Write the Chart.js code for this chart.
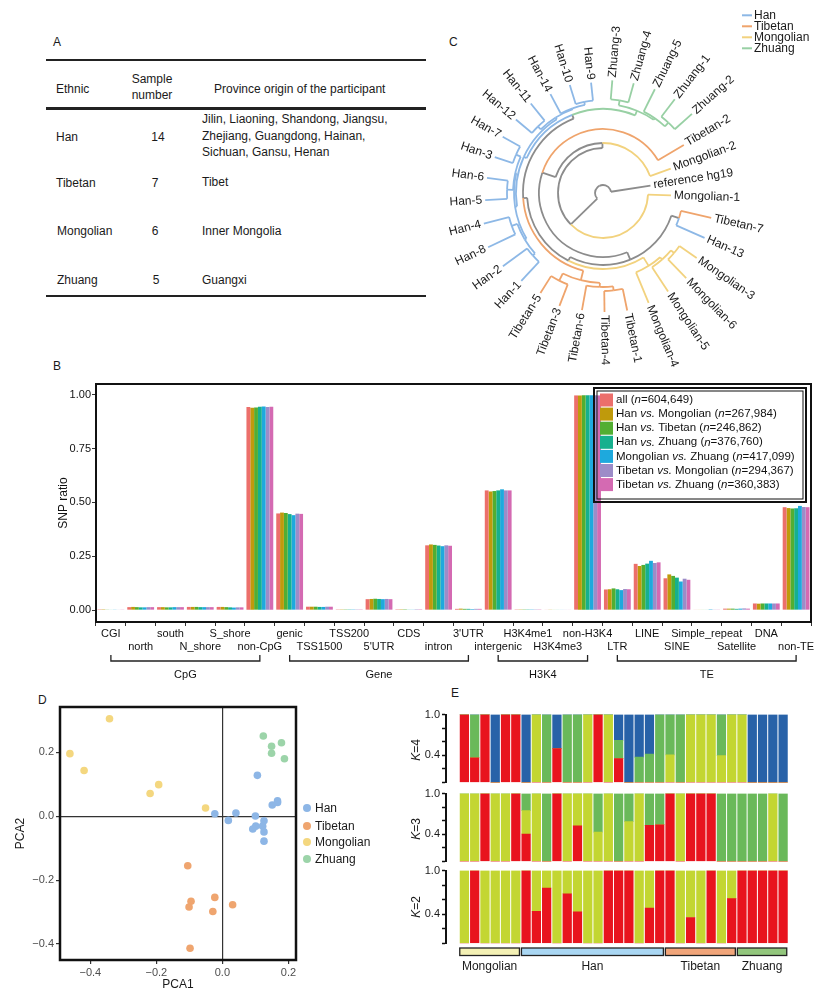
<!DOCTYPE html>
<html>
<head>
<meta charset="utf-8">
<title>SNP figure</title>
<script src="https://cdn.jsdelivr.net/npm/chart.js@4.4.1/dist/chart.umd.min.js"></script>
<style>
  body { margin:0; width:827px; height:996px; position:relative; overflow:hidden; background:#fff;
         font-family:"Liberation Sans", Arial, sans-serif; color:#1a1a1a; }
  .t { position:absolute; font-size:12px; line-height:14px; white-space:nowrap; }
  .c { text-align:center; width:60px; }
  .rule { position:absolute; left:46px; width:380px; background:#222; }
  canvas { position:absolute; }
  .dot { position:absolute; width:8px; height:8px; border-radius:50%; }
</style>
</head>
<body>
<!-- panel letters -->
<div class="t" style="left:53px;top:35px">A</div>
<div class="t" style="left:449px;top:35px">C</div>
<div class="t" style="left:53px;top:359px">B</div>
<div class="t" style="left:38px;top:693px">D</div>
<div class="t" style="left:451px;top:686px">E</div>

<!-- panel A : table -->
<div class="rule" style="top:59px;height:2px"></div>
<div class="rule" style="top:107px;height:3px"></div>
<div class="rule" style="top:295px;height:2px"></div>
<div class="t" style="left:56px;top:82px">Ethnic</div>
<div class="t c" style="left:122px;top:72px">Sample</div>
<div class="t c" style="left:122px;top:88px">number</div>
<div class="t" style="left:214px;top:82px">Province origin of the participant</div>
<div class="t" style="left:56px;top:130px">Han</div>
<div class="t c" style="left:128px;top:130px">14</div>
<div class="t" style="left:202px;top:112px">Jilin, Liaoning, Shandong, Jiangsu,</div>
<div class="t" style="left:202px;top:129px">Zhejiang, Guangdong, Hainan,</div>
<div class="t" style="left:202px;top:145px">Sichuan, Gansu, Henan</div>
<div class="t" style="left:56px;top:176px">Tibetan</div>
<div class="t c" style="left:125px;top:176px">7</div>
<div class="t" style="left:202px;top:175px">Tibet</div>
<div class="t" style="left:57px;top:224px">Mongolian</div>
<div class="t c" style="left:125px;top:224px">6</div>
<div class="t" style="left:202px;top:224px">Inner Mongolia</div>
<div class="t" style="left:57px;top:273px">Zhuang</div>
<div class="t c" style="left:126px;top:273px">5</div>
<div class="t" style="left:202px;top:273px">Guangxi</div>

<canvas id="chartC" width="414" height="385" style="left:413px;top:3px"></canvas>
<canvas id="chartB" width="787" height="320" style="left:40px;top:370px"></canvas>
<canvas id="chartD" width="300" height="306" style="left:0px;top:690px"></canvas>
<canvas id="chartK4" width="372" height="85" style="left:422px;top:706px"></canvas>
<canvas id="chartK3" width="372" height="85" style="left:422px;top:785px"></canvas>
<canvas id="chartK2" width="372" height="134" style="left:422px;top:862px"></canvas>

<!-- panel D legend -->
<div class="dot" style="left:303px;top:804px;background:#8DB6E6"></div>
<div class="t" style="left:315px;top:801px">Han</div>
<div class="dot" style="left:303px;top:822px;background:#EFA56F"></div>
<div class="t" style="left:315px;top:819px">Tibetan</div>
<div class="dot" style="left:303px;top:838px;background:#F4D77F"></div>
<div class="t" style="left:315px;top:835px">Mongolian</div>
<div class="dot" style="left:303px;top:855px;background:#9CD4A9"></div>
<div class="t" style="left:315px;top:852px">Zhuang</div>

<!-- panel E row titles -->
<div class="t c" style="left:386px;top:743px;width:60px;transform:rotate(-90deg)"><i>K</i>=4</div>
<div class="t c" style="left:386px;top:822px;width:60px;transform:rotate(-90deg)"><i>K</i>=3</div>
<div class="t c" style="left:386px;top:900px;width:60px;transform:rotate(-90deg)"><i>K</i>=2</div>

<script>
// ---------- panel B : SNP ratio per genomic feature ----------
const bCategories = ['CGI','north','south','N_shore','S_shore','non-CpG','genic','TSS1500','TSS200',"5'UTR",'CDS','intron',"3'UTR",'intergenic','H3K4me1','H3K4me3','non-H3K4','LTR','LINE','SINE','Simple_repeat','Satellite','DNA','non-TE'];
const bSeriesNames = ['all','Han vs. Mongolian','Han vs. Tibetan','Han vs. Zhuang','Mongolian vs. Zhuang','Tibetan vs. Mongolian','Tibetan vs. Zhuang'];
const bSeriesN = ['604,649','267,984','246,862','376,760','417,099','294,367','360,383'];
const ratioAll    = [0.004,0.014,0.014,0.015,0.015,0.943,0.449,0.016,0.001,0.051,0.004,0.301,0.006,0.556,0.001,0.002,0.997,0.096,0.215,0.148,0.002,0.007,0.031,0.478];
const ratioHanMon = [0.004,0.015,0.014,0.015,0.015,0.940,0.453,0.016,0.001,0.052,0.004,0.305,0.007,0.551,0.001,0.003,0.997,0.097,0.205,0.166,0.002,0.007,0.030,0.474];
const ratioHanTib = [0.003,0.014,0.013,0.015,0.014,0.941,0.451,0.016,0.001,0.053,0.004,0.303,0.006,0.553,0.001,0.002,0.998,0.101,0.210,0.159,0.002,0.007,0.031,0.472];
const ratioHanZhu = [0.002,0.013,0.013,0.014,0.013,0.944,0.446,0.015,0.001,0.052,0.003,0.300,0.006,0.556,0.001,0.002,0.998,0.097,0.216,0.151,0.002,0.006,0.031,0.473];
const ratioMonZhu = [0.003,0.013,0.014,0.014,0.012,0.946,0.441,0.015,0.001,0.051,0.003,0.297,0.005,0.561,0.001,0.002,0.998,0.093,0.229,0.133,0.004,0.007,0.031,0.484];
const ratioTibMon = [0.002,0.014,0.014,0.014,0.013,0.943,0.448,0.016,0.001,0.052,0.004,0.301,0.006,0.556,0.001,0.002,0.998,0.098,0.219,0.146,0.003,0.008,0.031,0.479];
const ratioTibZhu = [0.003,0.014,0.014,0.014,0.013,0.944,0.447,0.016,0.001,0.051,0.004,0.299,0.006,0.556,0.001,0.002,0.997,0.097,0.222,0.141,0.003,0.007,0.031,0.478];
const bColors = ['#EC6F6B','#BF9A0C','#52AE32','#16B08E','#1EA9DD','#9C8CC8','#D46AB2'];
const bYTicks = [0, 0.25, 0.5, 0.75, 1.0];
const bGroupNames = ['CpG','Gene','H3K4','TE'];
const bGroupFirst = [0,6,13,17];
const bGroupLast  = [5,12,16,23];

// ---------- panel C : neighbour-joining tree ----------
// nested [depth, child, child]; leaves are sample names
const treeC =
  [0.08,
    [0.45,
      'Mongolian-1',
      [0.50,
        [0.64,
          [0.72,
            [0.80, 'Tibetan-7', 'Han-13'],
            [0.76,
              [0.86, [0.89, [0.93, 'Mongolian-3', 'Mongolian-6'], 'Mongolian-5'], 'Mongolian-4'],
              [0.80,
                [0.90, [0.94, [0.98, 'Tibetan-1', 'Tibetan-4'], 'Tibetan-6'], [0.98, 'Tibetan-3', 'Tibetan-5']],
                [0.84,
                  [0.87,
                    [0.89, [0.91, [0.94, 'Han-1', 'Han-2'], [0.97, 'Han-8', 'Han-4']],
                           [0.90, [0.96, 'Han-5', 'Han-6'], [0.95, 'Han-3', 'Han-7']]],
                    [0.89, [0.93, 'Han-12', 'Han-11'], [0.90, 'Han-14', [0.93, 'Han-10', 'Han-9']]]],
                  [0.89, [0.94, 'Zhuang-3', 'Zhuang-4'], [0.91, 'Zhuang-5', [0.96, 'Zhuang-1', 'Zhuang-2']]]]]]],
          'Tibetan-2'],
        'Mongolian-2']],
    'reference hg19'];
const leafDepth = {
  'reference hg19':0.48, 'Mongolian-1':0.68, 'Tibetan-7':1.11, 'Han-13':1.11, 'Mongolian-3':1.14,
  'Mongolian-6':1.19, 'Mongolian-5':1.18, 'Mongolian-4':1.19, 'Tibetan-1':1.20, 'Tibetan-4':1.19,
  'Tibetan-6':1.19, 'Tibetan-3':1.21, 'Tibetan-5':1.18, 'Han-1':1.20, 'Han-2':1.24, 'Han-8':1.27,
  'Han-4':1.23, 'Han-5':1.18, 'Han-6':1.17, 'Han-3':1.14, 'Han-7':1.15, 'Han-12':1.14, 'Han-11':1.15,
  'Han-14':1.12, 'Han-10':1.13, 'Han-9':1.11, 'Zhuang-3':1.13, 'Zhuang-4':1.14, 'Zhuang-5':1.16,
  'Zhuang-1':1.18, 'Zhuang-2':1.19, 'Tibetan-2':0.94, 'Mongolian-2':0.72
};
const treeColors = { Han:'#8DB8E6', Tibetan:'#EFA46C', Mongolian:'#F2D27E', Zhuang:'#98D0A4', mixed:'#8C8C8C' };

// ---------- panel D : PCA ----------
const popNames = ['Han','Tibetan','Mongolian','Zhuang'];
const popColors = ['#8DB6E6','#EFA56F','#F4D77F','#9CD4A9'];
const hanPC1 = [0.106,0.151,0.167,0.167,-0.023,0.041,0.018,0.100,0.126,0.122,0.101,0.092,0.126,0.126];
const hanPC2 = [0.128,0.035,0.048,0.043,0.008,0.010,-0.013,0.001,-0.014,-0.031,-0.031,-0.040,-0.049,-0.078];
const tibPC1 = [-0.105,-0.095,-0.101,-0.023,-0.029,0.031,-0.098];
const tibPC2 = [-0.155,-0.266,-0.284,-0.254,-0.298,-0.277,-0.413];
const monPC1 = [-0.342,-0.462,-0.419,-0.193,-0.219,-0.051];
const monPC2 = [0.305,0.196,0.143,0.099,0.071,0.026];
const zhuPC1 = [0.124,0.149,0.179,0.149,0.188];
const zhuPC2 = [0.251,0.219,0.230,0.197,0.180];

// ---------- panel E : ADMIXTURE ancestry proportions (32 samples) ----------
const groupOrder = ['Mongolian','Han','Tibetan','Zhuang'];
const groupSize = [6,14,7,5];
const groupFill = ['#F3F0B4','#A9D6F2','#F1A57A','#92C67C'];
const ancestryColors = ['#E8141E','#C3D632','#6AB95A','#2862A8'];
const k4Red   = [1,0.364,1,0,1,1, 0,0,0,0.5,0,0,0,1,0,0.35,0,0,0,0, 0,0,0,0,0,0,0, 0,0,0,0,0];
const k4Lime  = [0,0,0,0,0,0, 0,1,0,0,0,0,1,0,1,0,0,0,0,0, 0.405,0,1,1,1,0.395,1, 1,0,0,0,0];
const k4Green = [0,0.636,0,0,0,0, 0,0,1,0,1,1,0,0,0,0.27,0,0.373,0.418,1, 0.595,1,0,0,0,0.605,0, 0,0,0,0,0];
const k4Blue  = [0,0,0,1,0,0, 1,0,0,0.5,0,0,0,0,0,0.38,1,0.627,0.582,0, 0,0,0,0,0,0,0, 0,1,1,1,1];
const k3Red   = [0,0,1,0,0,1, 0.404,0,0,1,0,0.523,0,0,0,0,0,0,0.532,0.541, 1,0,1,1,1,0,0, 0,0,0,0,0];
const k3Lime  = [1,1,0,1,1,0, 0.344,1,0,0,1,0.477,1,0.431,1,0,0.587,1,0,0, 0,1,0,0,0,0,0, 0,0,0,1,0];
const k3Green = [0,0,0,0,0,0, 0.252,0,1,0,0,0,0,0.569,0,1,0.413,0,0.468,0.459, 0,0,0,0,0,1,1, 1,1,1,0,1];
const k2Red   = [0,1,0,0,0,0, 1,0.441,0.759,0,0.682,0.432,0,0,1,1,1,0,0.486,1, 1,0,0.355,0,1,0,0.614, 1,1,1,1,1];
const k2Lime  = [1,0,1,1,1,1, 0,0.559,0.241,1,0.318,0.568,1,1,0,0,0,1,0.514,0, 0,1,0.645,1,0,1,0.386, 0,0,0,0,0];
const sampleIndex = [0,1,2,3,4,5,6,7,8,9,10,11,12,13,14,15,16,17,18,19,20,21,22,23,24,25,26,27,28,29,30,31];

// ---------------------------------------------------------------------
const FONT = '"Liberation Sans", Arial, sans-serif';
Chart.defaults.font.family = FONT;
Chart.defaults.color = '#1a1a1a';
Chart.defaults.animation = false;
Chart.defaults.responsive = false;
Chart.defaults.plugins.legend.display = false;
Chart.defaults.plugins.tooltip.enabled = false;

const framePlugin = {
  id: 'frame',
  afterDatasetsDraw(chart, args, opts) {
    const a = chart.chartArea, c = chart.ctx;
    c.save();
    c.lineWidth = opts.width || 2;
    c.strokeStyle = '#111';
    c.strokeRect(a.left, a.top, a.right - a.left, a.bottom - a.top);
    c.restore();
  }
};

// ---------- B ----------
const bracketPlugin = {
  id: 'brackets',
  afterDraw(chart) {
    const c = chart.ctx, xs = chart.scales.x, ys = chart.scales.y, oy = 370;
    c.save();
    // y tick labels, from the scale's own ticks
    c.fillStyle = '#111'; c.font = '11px ' + FONT;
    c.textAlign = 'right'; c.textBaseline = 'middle';
    ys.ticks.forEach(t => c.fillText(Number(t.value).toFixed(2), chart.chartArea.left - 5, ys.getPixelForValue(t.value)));
    c.strokeStyle = '#222'; c.lineWidth = 1.3;
    c.textAlign = 'center';
    bGroupNames.forEach((g, i) => {
      const x1 = xs.getPixelForValue(bGroupFirst[i]), x2 = xs.getPixelForValue(bGroupLast[i]);
      c.beginPath();
      c.moveTo(x1, 655 - oy); c.lineTo(x1, 661 - oy); c.lineTo(x2, 661 - oy); c.lineTo(x2, 655 - oy);
      c.stroke();
      c.fillText(g, (x1 + x2) / 2, 675 - oy);
    });
    // legend box
    const ox = 40;
    c.lineWidth = 2; c.strokeStyle = '#111';
    c.strokeRect(594 - ox, 388 - oy, 212, 114);
    c.lineWidth = 1;
    c.strokeRect(597 - ox, 391 - oy, 206, 108);
    c.textAlign = 'left';
    bSeriesNames.forEach((name, i) => {
      const cy = 400 + i * 14.1 - oy;
      c.fillStyle = bColors[i];
      c.fillRect(600 - ox, cy - 6.5, 13, 13);
      const parts = name.split(' vs. ');
      const pieces = parts.length > 1
        ? [[parts[0] + ' ', false], ['vs.', true], [' ' + parts[1] + ' (', false]]
        : [[name + ' (', false]];
      pieces.push(['n', true], ['=' + bSeriesN[i] + ')', false]);
      let x = 616 - ox;
      c.fillStyle = '#111';
      pieces.forEach(([t, it]) => {
        c.font = (it ? 'italic ' : '') + '11.5px ' + FONT;
        c.fillText(t, x, cy);
        x += c.measureText(t).width;
      });
    });
    c.restore();
  }
};

const bSeries = [ratioAll, ratioHanMon, ratioHanTib, ratioHanZhu, ratioMonZhu, ratioTibMon, ratioTibZhu];
new Chart(document.getElementById('chartB'), {
  type: 'bar',
  data: {
    labels: bCategories,
    datasets: bSeries.map((d, i) => ({
      label: bSeriesNames[i], data: d, backgroundColor: bColors[i],
      borderWidth: 0, categoryPercentage: 0.9, barPercentage: 1.0
    }))
  },
  options: {
    layout: { padding: { left: 0, top: 14, right: 16, bottom: 38 } },
    scales: {
      x: {
        grid: { display: true, drawOnChartArea: false, tickLength: 4, tickColor: '#333' },
        border: { display: false },
        ticks: {
          autoSkip: false, maxRotation: 0, minRotation: 0, padding: 1,
          font: { size: 11 }, color: '#111',
          callback: (v, i) => (i % 2 ? ['', bCategories[i]] : bCategories[i])
        },
        afterFit: s => { s.height = 30; }
      },
      y: {
        min: -0.055, max: 1.05,
        grid: { display: true, drawOnChartArea: false, tickLength: 4, tickColor: '#333' },
        border: { display: false },
        afterBuildTicks: s => { s.ticks = bYTicks.map(v => ({ value: v })); },
        ticks: { display: false, autoSkip: false },
        title: { display: true, text: 'SNP ratio', font: { size: 12 }, color: '#111', padding: { top: 16, bottom: 0 } },
        afterFit: s => { s.width = 56; }
      }
    },
    plugins: { frame: { width: 2 } }
  },
  plugins: [framePlugin, bracketPlugin]
});

// ---------- C ----------
const N_LEAVES = 33;
const leafOrder = [];
function groupOf(name) {
  const g = name.split('-')[0];
  return treeColors[g] ? g : 'mixed';
}
function layoutTree(node) {
  if (typeof node === 'string') {
    const y = leafOrder.length;
    leafOrder.push(node);
    return { name: node, y, r: leafDepth[node] * 100, grp: groupOf(node), leaf: true };
  }
  const kids = node.slice(1).map(layoutTree);
  const y = kids.reduce((s, k) => s + k.y, 0) / kids.length;
  const g = new Set(kids.map(k => k.grp));
  return { kids, y, r: node[0] * 100, grp: g.size === 1 ? kids[0].grp : 'mixed' };
}
const rootC = layoutTree(treeC);
const angleOf = y => (2 + y * 360 / N_LEAVES) * Math.PI / 180;

const treePlugin = {
  id: 'tree',
  afterDraw(chart) {
    const c = chart.ctx, xs = chart.scales.x, ys = chart.scales.y;
    const px = (r, a) => [xs.getPixelForValue(r * Math.cos(a)), ys.getPixelForValue(-r * Math.sin(a))];
    const cx = xs.getPixelForValue(0), cy = ys.getPixelForValue(0);
    const pr = r => xs.getPixelForValue(r) - cx;
    c.save();
    c.lineWidth = 1.8; c.lineCap = 'butt';
    (function walk(n) {
      if (n.leaf) return;
      n.kids.forEach(k => {
        c.strokeStyle = treeColors[k.grp];
        const a1 = angleOf(n.y), a2 = angleOf(k.y);
        c.beginPath();
        c.arc(cx, cy, pr(n.r), Math.min(a1, a2), Math.max(a1, a2), false);
        c.stroke();
        const p1 = px(n.r, a2), p2 = px(k.r, a2);
        c.beginPath(); c.moveTo(p1[0], p1[1]); c.lineTo(p2[0], p2[1]); c.stroke();
        walk(k);
      });
    })(rootC);
    // tip labels
    c.fillStyle = '#1a1a1a';
    c.font = '12px ' + FONT;
    c.textBaseline = 'middle';
    (function labels(n) {
      if (!n.leaf) { n.kids.forEach(labels); return; }
      const a = angleOf(n.y);
      const p = px(n.r + 3, a);
      c.save();
      c.translate(p[0], p[1]);
      if (Math.cos(a) >= 0) { c.rotate(a); c.textAlign = 'left'; }
      else { c.rotate(a + Math.PI); c.textAlign = 'right'; }
      c.fillText(n.name, 0, 0);
      c.restore();
    })(rootC);
    // legend (top right)
    const ox = 413, oy = 3;
    c.font = '12px ' + FONT; c.textAlign = 'left';
    popNames.forEach((p, i) => {
      const y = 15.3 + i * 11 - oy;
      c.strokeStyle = treeColors[p]; c.lineWidth = 2;
      c.beginPath(); c.moveTo(742 - ox, y); c.lineTo(752 - ox, y); c.stroke();
      c.fillText(p, 754 - ox, y);
    });
    c.restore();
  }
};
new Chart(document.getElementById('chartC'), {
  type: 'scatter',
  data: { datasets: [] },
  options: {
    layout: { padding: 0 },
    scales: {
      x: { type: 'linear', min: -190, max: 224, display: false },
      y: { type: 'linear', min: -195, max: 190, display: false }
    }
  },
  plugins: [treePlugin]
});

// ---------- D ----------
const pcaX = [hanPC1, tibPC1, monPC1, zhuPC1];
const pcaY = [hanPC2, tibPC2, monPC2, zhuPC2];
const minusFmt = v => (v < -1e-9 ? '\u2212' : '') + Math.abs(v).toFixed(1);
const zeroGrid = {
  display: true, drawOnChartArea: true, drawTicks: true, tickLength: 4, tickColor: '#333',
  color: ctx => (ctx.tick && Math.abs(ctx.tick.value) < 1e-9 ? '#333' : 'rgba(0,0,0,0)'),
  lineWidth: 1.2
};
new Chart(document.getElementById('chartD'), {
  type: 'scatter',
  data: {
    datasets: popNames.map((p, i) => ({
      label: p,
      data: pcaX[i].map((x, j) => ({ x, y: pcaY[i][j] })),
      pointRadius: 3.8, pointBorderWidth: 0, backgroundColor: popColors[i]
    }))
  },
  options: {
    layout: { padding: { left: 0, top: 17, right: 4, bottom: 0 } },
    scales: {
      x: {
        type: 'linear', min: -0.492, max: 0.223,
        grid: zeroGrid, border: { display: false },
        ticks: { stepSize: 0.2, includeBounds: false, autoSkip: false, font: { size: 11 }, color: '#4d4d4d', padding: 2, callback: minusFmt },
        title: { display: true, text: 'PCA1', font: { size: 12 }, color: '#1a1a1a', padding: { top: 0, bottom: 4 } },
        afterFit: s => { s.height = 36; }
      },
      y: {
        type: 'linear', min: -0.45, max: 0.342,
        grid: zeroGrid, border: { display: false },
        ticks: { stepSize: 0.2, includeBounds: false, autoSkip: false, font: { size: 11 }, color: '#4d4d4d', padding: 2, callback: minusFmt },
        title: { display: true, text: 'PCA2', font: { size: 12 }, color: '#1a1a1a', padding: { top: 13, bottom: 0 } },
        afterFit: s => { s.width = 60; }
      }
    },
    plugins: { frame: { width: 2.5 } }
  },
  plugins: [framePlugin]
});

// ---------- E ----------
const groupBarPlugin = {
  id: 'groupBar',
  afterDraw(chart) {
    const c = chart.ctx, xs = chart.scales.x, oy = 862;
    c.save();
    c.font = '12px ' + FONT; c.textAlign = 'center'; c.textBaseline = 'middle';
    let start = 0;
    groupOrder.forEach((g, i) => {
      const end = start + groupSize[i] - 1;
      const x1 = xs.getPixelForValue(start - 0.5) + 0.5;
      const x2 = xs.getPixelForValue(end + 0.5) - 1.5;
      c.fillStyle = groupFill[i];
      c.fillRect(x1, 948 - oy, x2 - x1, 7.5);
      c.strokeStyle = '#222'; c.lineWidth = 1.3;
      c.strokeRect(x1, 948 - oy, x2 - x1, 7.5);
      c.fillStyle = '#1a1a1a';
      c.fillText(g, (x1 + x2) / 2, 967 - oy);
      start = end + 1;
    });
    c.restore();
  }
};
function structureChart(id, layers, padBottom, extra) {
  return new Chart(document.getElementById(id), {
    type: 'bar',
    data: {
      labels: sampleIndex,
      datasets: layers.map((d, i) => ({
        data: d, backgroundColor: ancestryColors[i], borderWidth: 0, barThickness: 8.6
      }))
    },
    options: {
      layout: { padding: { left: 0, top: 8, right: 4, bottom: padBottom } },
      scales: {
        x: { type: 'linear', min: -1.79, max: 31.67, offset: false, bounds: 'data',
             display: false, stacked: true, ticks: { includeBounds: true } },
        y: {
          stacked: true, min: 0, max: 1,
          border: { display: true, width: 2, color: '#111' },
          grid: { display: true, drawOnChartArea: false, tickLength: 4, tickWidth: 1.5, tickColor: '#111' },
          ticks: { stepSize: 0.2, autoSkip: false, font: { size: 11 }, color: '#1a1a1a', padding: 2,
                   callback: v => (Math.abs(v - 1) < 1e-6 ? '1.0' : Math.abs(v - 0.4) < 1e-6 ? '0.4' : '') },
          afterFit: s => { s.width = 24; }
        }
      }
    },
    plugins: extra ? [extra] : []
  });
}
structureChart('chartK4', [k4Red, k4Lime, k4Green, k4Blue], 3.7);
structureChart('chartK3', [k3Red, k3Lime, k3Green], 4.0);
structureChart('chartK2', [k2Red, k2Lime], 52.7, groupBarPlugin);
</script>
</body>
</html>
